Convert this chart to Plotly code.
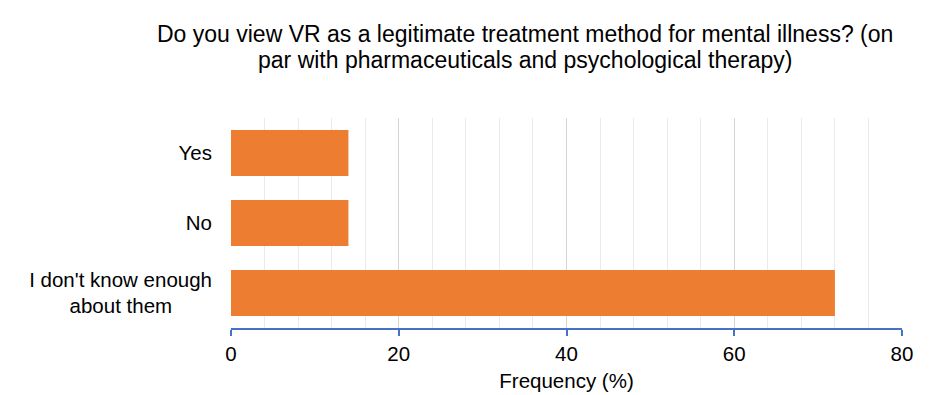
import plotly.graph_objects as go

categories = ["Yes", "No", "I don't know enough about them"]
tick_labels = ["Yes", "No", "I don't know enough<br>about them" + "\u00a0" * 7]
values = [14, 14, 72]
x_ticks = [0, 20, 40, 60, 80]
title_lines = ["Do you view VR as a legitimate treatment method for mental illness? (on",
               "par with pharmaceuticals and psychological therapy)"]

W, H = 930, 387
L, R, T, B = 223, 36, 110, 67
pw, ph = W - L - R, H - T - B


def px_to_paper(x, y):
    return (x - L) / pw, (H - B - y) / ph


fig = go.Figure(go.Bar(
    y=categories, x=values, orientation="h",
    marker=dict(color="#ED7D31", line=dict(width=0)),
))

annots = []
for line, ypix in zip(title_lines, [26, 52]):
    xp, yp = px_to_paper(517, ypix)
    annots.append(dict(
        text=line, x=xp, y=yp, xref="paper", yref="paper",
        xanchor="center", yanchor="middle", showarrow=False,
        font=dict(size=23, color="#000000"),
    ))

fig.update_layout(
    width=W, height=H,
    margin=dict(l=L, r=R, t=T, b=B),
    paper_bgcolor="white", plot_bgcolor="white",
    font=dict(family="Liberation Sans, Arial, sans-serif", size=20.5, color="#000000"),
    bargap=0.34,
    showlegend=False,
    annotations=annots,
)

fig.update_xaxes(
    range=[0, 80], tickvals=x_ticks, ticktext=[str(v) for v in x_ticks],
    showgrid=True, gridcolor="#D4D4D4", gridwidth=1,
    minor=dict(dtick=4, showgrid=True, gridcolor="#EAEAEA", gridwidth=1),
    showline=True, linecolor="#4472C4", linewidth=2,
    ticks="outside", ticklen=6, tickcolor="#4472C4", tickwidth=2,
    title=dict(text="Frequency (%)", standoff=10, font=dict(size=20.5)),
    zeroline=False, fixedrange=True, automargin=False,
)
fig.update_yaxes(
    categoryorder="array", categoryarray=categories[::-1],
    tickvals=categories, ticktext=tick_labels,
    showgrid=False, showline=False, ticks="", ticklabelstandoff=18,
    fixedrange=True, automargin=False,
)

fig.write_html("out.html")
